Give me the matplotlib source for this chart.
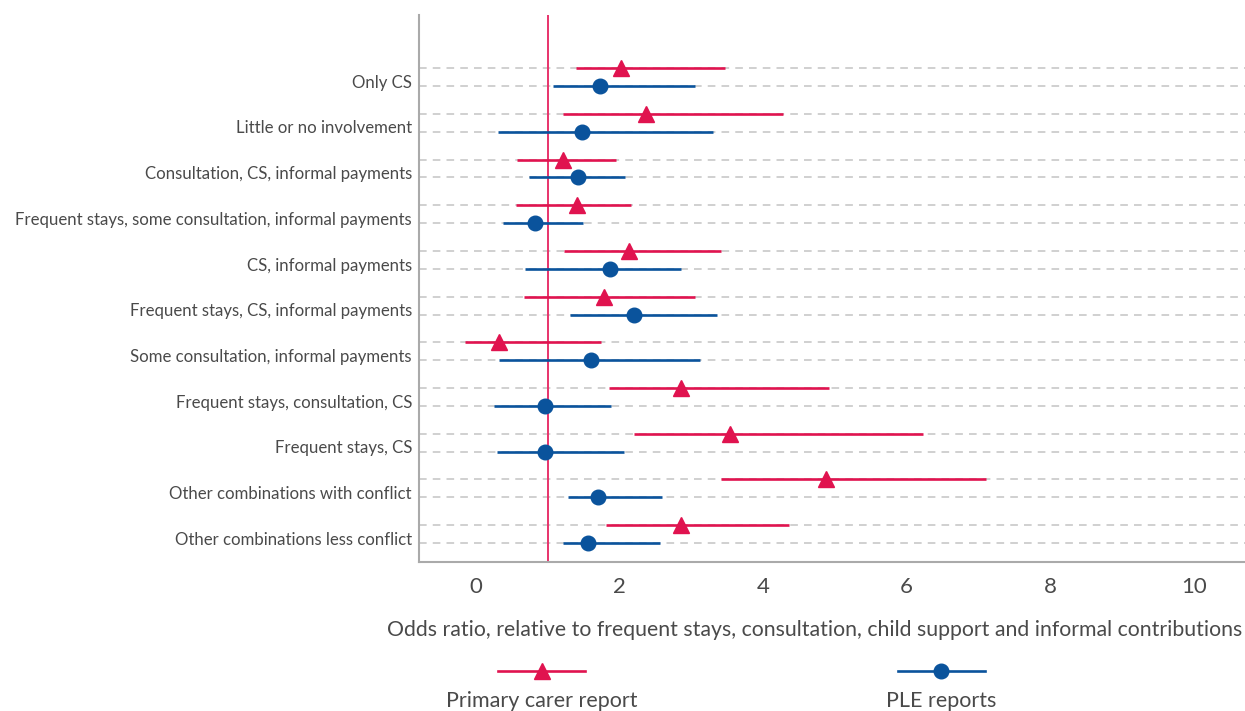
import matplotlib
matplotlib.use("Agg")
import matplotlib.pyplot as plt
from matplotlib.lines import Line2D
import numpy as np

categories = [
    "Only CS",
    "Little or no involvement",
    "Consultation, CS, informal payments",
    "Frequent stays, some consultation, informal payments",
    "CS, informal payments",
    "Frequent stays, CS, informal payments",
    "Some consultation, informal payments",
    "Frequent stays, consultation, CS",
    "Frequent stays, CS",
    "Other combinations with conflict",
    "Other combinations less conflict",
]

carer_or = [2.02, 2.37, 1.21, 1.41, 2.14, 1.78, 0.33, 2.86, 3.54, 4.87, 2.86]
carer_lo = [1.39, 1.21, 0.58, 0.56, 1.23, 0.67, -0.15, 1.85, 2.20, 3.41, 1.81]
carer_hi = [3.47, 4.28, 1.95, 2.16, 3.41, 3.05, 1.75, 4.92, 6.23, 7.10, 4.36]

ple_or = [1.73, 1.48, 1.42, 0.82, 1.87, 2.20, 1.60, 0.97, 0.97, 1.70, 1.56]
ple_lo = [1.07, 0.31, 0.74, 0.38, 0.68, 1.31, 0.33, 0.26, 0.29, 1.28, 1.21]
ple_hi = [3.05, 3.31, 2.08, 1.50, 2.86, 3.36, 3.12, 1.88, 2.06, 2.60, 2.56]

RED = "#e0134f"
BLUE = "#0a539c"
TXT = "#4a4a4a"

plt.rcParams["font.family"] = ["Lato", "DejaVu Sans"]

fig = plt.figure(figsize=(12.45, 7.11), dpi=100)
ax = fig.add_axes([0.3365, 0.2096, 0.6635, 0.7694])

y = np.arange(len(categories))
off = 0.195
y_car = y - off
y_ple = y + off

for yy in np.concatenate([y_car, y_ple]):
    ax.axhline(yy, color="#c4c4c4", lw=1.1, ls=(0, (5, 4)), zorder=1)

ax.axvline(1, color="#e8336b", lw=1.4, zorder=2)

ax.hlines(y_car, carer_lo, carer_hi, color=RED, lw=1.9, zorder=3)
ax.plot(carer_or, y_car, "^", color=RED, ms=11, zorder=4)
ax.hlines(y_ple, ple_lo, ple_hi, color=BLUE, lw=1.9, zorder=3)
ax.plot(ple_or, y_ple, "o", color=BLUE, ms=10.5, zorder=4)

ax.set_xlim(-0.79, 10.71)
ax.set_ylim(len(categories) - 1 + 0.61, -1.36)
ax.set_xticks([0, 2, 4, 6, 8, 10])
ax.set_yticks(y + 0.09)
ax.set_yticklabels(categories)
ax.tick_params(axis="y", length=0, pad=5, labelsize=12.1, labelcolor=TXT)
ax.tick_params(axis="x", length=0, pad=11, labelsize=16, labelcolor=TXT)

for s in ["top", "right"]:
    ax.spines[s].set_visible(False)
for s in ["left", "bottom"]:
    ax.spines[s].set_color("#aaaaaa")
    ax.spines[s].set_linewidth(1.5)

ax.set_xlabel("Odds ratio, relative to frequent stays, consultation, child support and informal contributions",
              fontsize=15.3, color=TXT)
ax.xaxis.set_label_coords(0.479, -0.106)

# legend drawn below the axis
legend_items = [(RED, "^", 11, "Primary carer report", 0.435),
                (BLUE, "o", 10.5, "PLE reports", 0.756)]
for col, mk, ms, lab, xc in legend_items:
    fig.add_artist(Line2D([xc - 0.035, xc + 0.035], [0.056, 0.056], color=col, lw=1.9))
    fig.add_artist(Line2D([xc], [0.056], marker=mk, color=col, ms=ms, ls="none"))
    fig.text(xc, 0.014, lab, ha="center", va="center", fontsize=15.5, color=TXT)

fig.savefig("out.png", dpi=100)
